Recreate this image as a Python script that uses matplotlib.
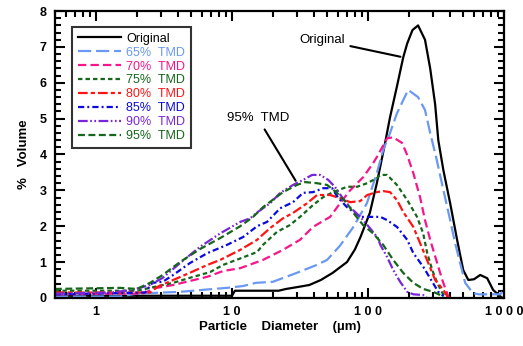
import matplotlib
matplotlib.use("Agg")
import matplotlib.pyplot as plt
from matplotlib.ticker import FixedLocator, FixedFormatter, MultipleLocator, LogLocator, NullFormatter

plt.rcParams['font.family'] = ['Liberation Sans', 'DejaVu Sans']
plt.rcParams['lines.scale_dashes'] = False

# particle size distributions, diameter in um, % volume
d_orig = [0.5, 10, 10.5, 22, 25, 30, 37, 45, 55, 70, 80, 88, 103, 116, 133, 145, 163, 181, 194, 212,
          233, 262, 286, 311, 328, 358, 401, 451, 500, 545, 600, 667, 750, 830, 967, 1000]
v_orig = [0.06, 0.06, 0.2, 0.2, 0.25, 0.3, 0.36, 0.5, 0.7, 1.0, 1.35, 1.7, 2.37, 3.2, 4.3, 5.04, 5.9, 6.7, 7.1, 7.47,
          7.6, 7.2, 6.4, 5.4, 4.4, 3.55, 2.64, 1.62, 0.78, 0.5, 0.52, 0.64, 0.55, 0.22, 0.0, 0.0]

d_65 = [0.5, 1.5, 2, 4.2, 7.3, 9.2, 12, 15, 20, 30, 42, 50, 62, 78, 98, 116, 129, 145, 163, 197,
        233, 262, 286, 316, 358, 401, 436, 475, 517, 591, 650, 935, 967]
v_65 = [0.04, 0.04, 0.12, 0.17, 0.25, 0.28, 0.33, 0.42, 0.45, 0.7, 0.92, 1.06, 1.45, 1.98, 2.64, 3.48, 4.12, 4.6, 5.15, 5.8,
        5.6, 5.24, 4.6, 3.93, 3.0, 2.17, 1.53, 0.97, 0.42, 0.13, 0.1, 0.1, 0.17]

d_70 = [0.5, 1.5, 2.2, 2.8, 3.7, 6.6, 8.6, 11.5, 15.3, 16.9, 23.7, 31.6, 39.4, 52.6, 62.3, 73.8, 92.2, 109,
        116, 138, 153, 178, 194, 215, 241, 262, 286, 322, 351, 389, 400]
v_70 = [0.1, 0.12, 0.12, 0.28, 0.36, 0.59, 0.75, 0.83, 1.0, 1.06, 1.34, 1.62, 1.98, 2.26, 2.64, 3.0, 3.37, 3.76,
        3.93, 4.45, 4.48, 4.32, 3.98, 3.48, 2.81, 2.17, 1.62, 0.97, 0.5, 0.03, 0.0]

d_75 = [0.5, 2.0, 2.5, 3.7, 4.9, 6.9, 8.6, 11.5, 15.3, 16.9, 21.4, 26.6, 31.6, 39.4, 46.8, 55.4, 70.1, 83.1, 98.6,
        116, 123, 138, 163, 194, 229, 254, 272, 296, 322, 351, 382]
v_75 = [0.2, 0.2, 0.28, 0.42, 0.56, 0.72, 0.92, 1.1, 1.28, 1.48, 1.84, 2.03, 2.26, 2.59, 2.81, 2.95, 3.1, 3.1, 3.2,
        3.34, 3.43, 3.43, 3.15, 2.73, 2.26, 1.8, 1.25, 0.78, 0.42, 0.14, 0.0]

d_80 = [0.5, 2.5, 2.8, 3.7, 4.9, 6.6, 8.2, 11.5, 15.3, 16.1, 19.1, 23.7, 28.1, 35.6, 42.2, 52.6, 62.3, 73.8, 87.5,
        98.6, 116, 129, 145, 163, 181, 215, 241, 277, 311, 358, 389]
v_80 = [0.15, 0.15, 0.3, 0.5, 0.7, 0.92, 1.06, 1.34, 1.62, 1.7, 1.95, 2.22, 2.37, 2.64, 2.87, 2.87, 2.78, 2.67, 2.7,
        2.87, 2.95, 2.98, 2.95, 2.73, 2.4, 1.98, 1.53, 0.97, 0.5, 0.22, 0.0]

d_85 = [0.5, 2.3, 2.6, 3.1, 3.7, 4.9, 6.6, 9.2, 12.1, 15.3, 18.1, 22.6, 28.1, 33.3, 39.4, 46.8, 54.5, 60, 70, 87.5,
        103, 123, 138, 163, 194, 215, 254, 296, 328, 358]
v_85 = [0.1, 0.15, 0.42, 0.45, 0.64, 0.97, 1.25, 1.48, 1.7, 2.0, 2.12, 2.5, 2.67, 2.93, 2.95, 3.06, 3.06, 2.8, 2.53, 2.26,
        2.26, 2.26, 2.17, 1.98, 1.62, 1.25, 0.87, 0.45, 0.17, 0.05]

d_90 = [0.5, 1.3, 1.8, 2.1, 2.5, 3.1, 4.15, 5.8, 8.2, 11.5, 13.6, 15.5, 19.1, 22.6, 28.1, 33.3, 38.8, 44.4, 51, 57,
        64.6, 73.8, 87.5, 103, 118, 123, 138, 153, 172, 194, 215, 254, 270]
v_90 = [0.12, 0.15, 0.22, 0.28, 0.36, 0.56, 0.97, 1.42, 1.8, 2.12, 2.22, 2.4, 2.64, 2.93, 3.15, 3.29, 3.43, 3.43, 3.29, 3.1,
        2.8, 2.53, 2.26, 1.95, 1.67, 1.48, 1.14, 0.78, 0.45, 0.17, 0.1, 0.08, 0.0]

d_95 = [0.5, 1.5, 2.0, 2.5, 3.1, 4.15, 5.8, 8.2, 11.5, 14.3, 16.9, 23.7, 30, 34.4, 42, 50, 59, 70, 78, 92,
        109, 129, 153, 181, 215, 254, 301, 339, 360]
v_95 = [0.25, 0.28, 0.25, 0.42, 0.64, 1.0, 1.36, 1.67, 2.0, 2.26, 2.53, 2.95, 3.15, 3.23, 3.2, 3.15, 2.93, 2.64, 2.37, 2.03,
        1.8, 1.48, 1.06, 0.7, 0.42, 0.25, 0.17, 0.08, 0.0]

labels = ['Original', '65%  TMD', '70%  TMD', '75%  TMD', '80%  TMD', '85%  TMD', '90%  TMD', '95%  TMD']
colors = ['black', '#6a98f2', '#f5168c', '#16661c', '#ff1414', '#0a0ae0', '#7a26d8', '#16661c']
styles = ['-', (0, (9.5, 3.5)), (0, (6, 3)), (0, (3.2, 2.2)), (0, (7, 2.2, 3, 2.2)),
          (0, (4.5, 2.2, 1.4, 2.2)), (0, (7, 1.8, 1.2, 1.8, 1.2, 1.8)), (0, (5, 2.5))]

series = [(d_orig, v_orig), (d_65, v_65), (d_70, v_70), (d_75, v_75),
          (d_80, v_80), (d_85, v_85), (d_90, v_90), (d_95, v_95)]

fig = plt.figure(figsize=(5.23, 3.46), dpi=100)
ax = fig.add_axes([0.105, 0.139, 0.859, 0.829])

for (d, v), lab, c, ls in zip(series, labels, colors, styles):
    ax.plot(d, v, color=c, ls=ls, lw=1.6, label=lab)

ax.set_xscale('log')
ax.set_xlim(0.5, 1000)
ax.set_ylim(0, 8)

ax.xaxis.set_major_locator(FixedLocator([1, 10, 100, 1000]))
ax.xaxis.set_major_formatter(FixedFormatter(['1', '1 0', '1 0 0', '1 0 0 0']))
ax.xaxis.set_minor_locator(LogLocator(base=10, subs=range(2, 10)))
ax.xaxis.set_minor_formatter(NullFormatter())
ax.yaxis.set_major_locator(MultipleLocator(1))
ax.yaxis.set_minor_locator(MultipleLocator(0.2))

ax.tick_params(which='both', direction='in', top=True, right=True, width=1.5)
ax.tick_params(which='major', length=7, labelsize=9, pad=6)
ax.tick_params(which='minor', length=4)
for lab in ax.get_xticklabels() + ax.get_yticklabels():
    lab.set_fontweight('bold')
for s in ax.spines.values():
    s.set_linewidth(1.6)

ax.set_xlabel('Particle    Diameter    (µm)', fontsize=9.5, fontweight='bold', labelpad=2)
ax.set_ylabel('%   Volume', fontsize=9.5, fontweight='bold', labelpad=7)

leg = ax.legend(loc='upper left', bbox_to_anchor=(0.038, 0.944), borderaxespad=0,
                fontsize=9, handlelength=3.5, handletextpad=0.4, labelspacing=0.15,
                frameon=True, fancybox=False, borderpad=0.45)
leg.get_frame().set_edgecolor('black')
leg.get_frame().set_linewidth(1.5)
for txt, c in zip(leg.get_texts(), colors):
    txt.set_color(c)

ax.annotate('Original', xy=(181, 6.71), xytext=(45.9, 7.19), fontsize=9.5, ha='center', va='center',
            arrowprops=dict(arrowstyle='-', color='black', lw=1.5))
ax.annotate('95%  TMD', xy=(30.1, 3.2), xytext=(15.5, 5.01), fontsize=9.5, ha='center', va='center',
            arrowprops=dict(arrowstyle='-', color='black', lw=1.5))

fig.savefig('out.png', dpi=100)
